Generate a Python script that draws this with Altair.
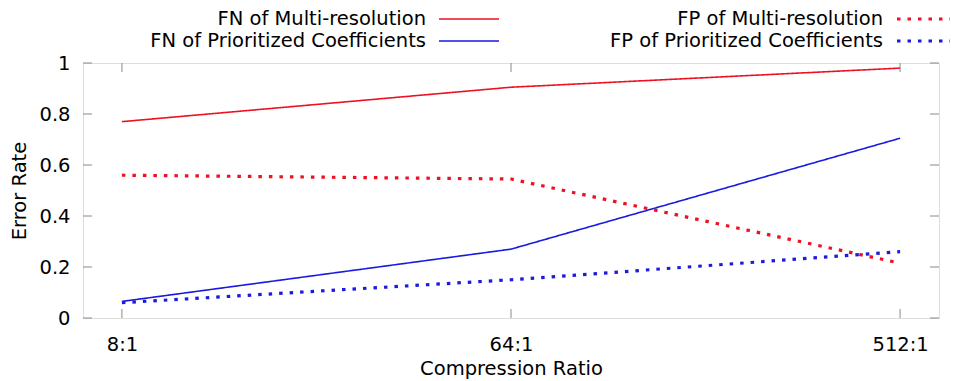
import altair as alt
import pandas as pd

ratios = ["8:1", "64:1", "512:1"]
series = [
    "FN of Multi-resolution",
    "FN of Prioritized Coefficients",
    "FP of Multi-resolution",
    "FP of Prioritized Coefficients",
]
fn_multi = [0.77, 0.905, 0.98]
fn_prior = [0.065, 0.27, 0.705]
fp_multi = [0.56, 0.545, 0.215]
fp_prior = [0.06, 0.15, 0.26]
colors = ["#ee1122", "#1a1ae0", "#ee1122", "#1a1ae0"]
dashes = [[1, 0], [1, 0], [3.5, 7], [3.5, 7]]
widths = [1.6, 1.6, 3.2, 3.2]
y_ticks = [0, 0.2, 0.4, 0.6, 0.8, 1.0]

W, H = 856, 255
FONT = "DejaVu Sans"
FS = 19.5
GRAY = "#8a8a8a"

rows = []
for name, vals in zip(series, [fn_multi, fn_prior, fp_multi, fp_prior]):
    for i, v in enumerate(vals):
        rows.append({"series": name, "idx": i, "ratio": ratios[i], "value": v})
df = pd.DataFrame(rows)

label_expr = "[" + ",".join(f"'{r}'" for r in ratios) + "][datum.value]"

xscale = alt.Scale(domain=[-0.1, 2.1], nice=False, zero=False)
yscale = alt.Scale(domain=[0, 1], nice=False)
cscale = alt.Scale(domain=series, range=colors)

x_enc = alt.X("idx:Q", scale=xscale,
              axis=alt.Axis(values=[0, 1, 2], labelExpr=label_expr, title="Compression Ratio",
                            ticks=False, tickSize=0, domain=False, grid=False,
                            labelPadding=17, titlePadding=6, labelFont=FONT, titleFont=FONT,
                            labelFontSize=FS, titleFontSize=FS, titleFontWeight="normal",
                            labelColor="black", titleColor="black"))
y_enc = alt.Y("value:Q", scale=yscale,
              axis=alt.Axis(values=y_ticks, format="~g", title="Error Rate", ticks=False, tickSize=0,
                            domain=False, grid=False, labelPadding=13, titlePadding=9,
                            labelFont=FONT, titleFont=FONT, labelFontSize=FS, titleFontSize=FS,
                            titleFontWeight="normal", labelColor="black", titleColor="black"))

line_layers = []
for k, name in enumerate(series):
    line_layers.append(
        alt.Chart(df[df["series"] == name]).mark_line(
            strokeWidth=widths[k], strokeDash=dashes[k]).encode(
            x=x_enc, y=y_enc,
            color=alt.Color("series:N", scale=cscale, legend=None)))

ydf = pd.DataFrame({"v": y_ticks})
xdf = pd.DataFrame({"i": [0, 1, 2]})

tick_left = alt.Chart(ydf).mark_rule(color=GRAY, strokeWidth=1).encode(
    y=alt.Y("v:Q", scale=yscale), x=alt.value(0), x2=alt.value(9))
tick_right = alt.Chart(ydf).mark_rule(color=GRAY, strokeWidth=1).encode(
    y=alt.Y("v:Q", scale=yscale), x=alt.value(W - 9), x2=alt.value(W))
tick_bottom = alt.Chart(xdf).mark_rule(color=GRAY, strokeWidth=1).encode(
    x=alt.X("i:Q", scale=xscale), y=alt.value(H - 9), y2=alt.value(H))
tick_top = alt.Chart(xdf).mark_rule(color=GRAY, strokeWidth=1).encode(
    x=alt.X("i:Q", scale=xscale), y=alt.value(0), y2=alt.value(9))

# legend (two columns, label right-aligned before line sample)
leg_pos = [(343, 356, 416, -44), (343, 356, 416, -22), (800, 814, 867, -44), (800, 814, 867, -22)]
legend_layers = []
for k, name in enumerate(series):
    tx, l1, l2, ly = leg_pos[k]
    ldf = pd.DataFrame({"series": [name]})
    legend_layers.append(
        alt.Chart(ldf).mark_text(align="right", baseline="middle", font=FONT, fontSize=FS,
                                 color="black").encode(
            text="series:N", x=alt.value(tx), y=alt.value(ly)))
    legend_layers.append(
        alt.Chart(ldf).mark_rule(color=colors[k], strokeDash=dashes[k], strokeWidth=widths[k]).encode(
            x=alt.value(l1), x2=alt.value(l2), y=alt.value(ly)))

chart = alt.layer(*line_layers, tick_left, tick_right, tick_bottom, tick_top, *legend_layers).properties(
    width=W, height=H,
    autosize=alt.AutoSizeParams(type="none"),
    padding={"left": 75, "top": 55, "right": 12, "bottom": 63},
).configure_view(stroke=GRAY, strokeWidth=1.5).configure(background="white")

chart.save("out.html", embed_options={"renderer": "svg", "actions": False})
